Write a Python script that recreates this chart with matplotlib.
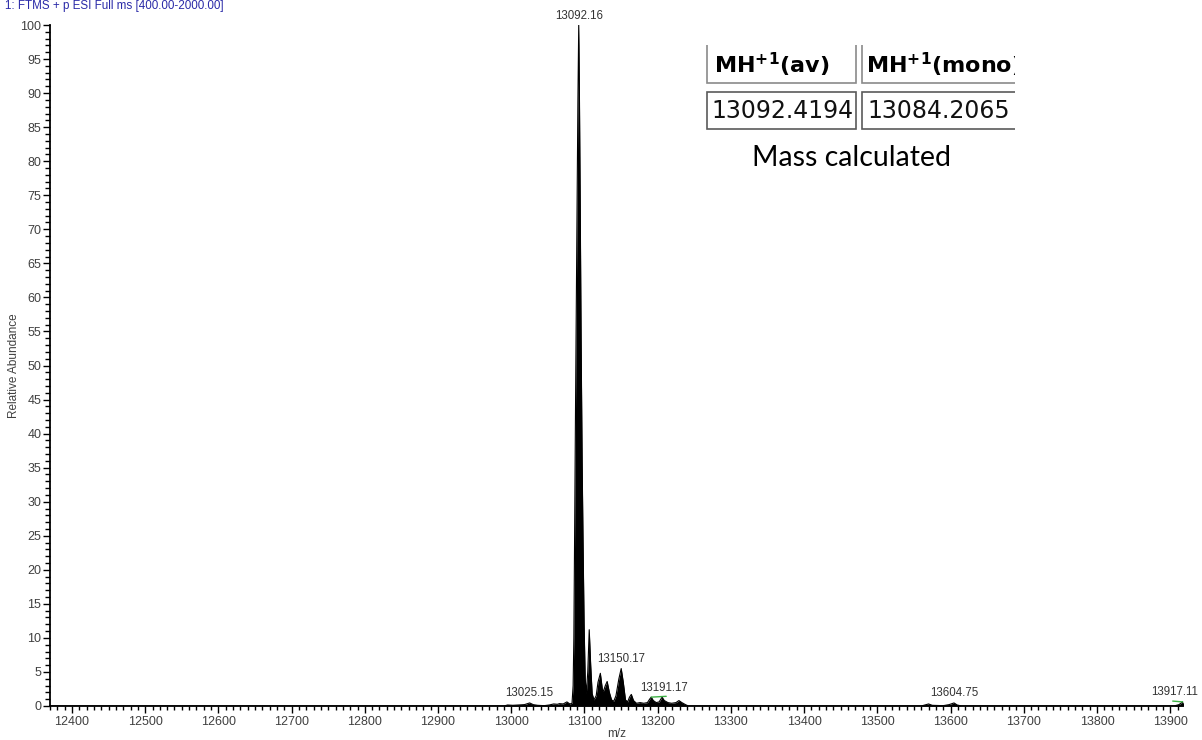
import matplotlib
matplotlib.use("Agg")
import matplotlib.pyplot as plt
from matplotlib.patches import Rectangle
from matplotlib.ticker import MultipleLocator

plt.rcParams['font.family'] = ['Liberation Sans', 'DejaVu Sans']
plt.rcParams['mathtext.fontset'] = 'dejavusans'

# deconvoluted profile spectrum (m/z, relative abundance)
mz = [12370, 12990, 12995, 13002, 13010, 13018, 13025.15, 13030, 13036, 13045,
      13052, 13058, 13063, 13066, 13071, 13076, 13080, 13083, 13084.5, 13085.5,
      13086.5, 13087.8, 13089.5, 13091, 13092.16, 13093.2, 13094.2, 13095.4, 13096.8, 13098,
      13099.5, 13101, 13102.5, 13104.5, 13106.5, 13108.5, 13110.5, 13113, 13116, 13118.5,
      13121.7, 13124.5, 13126, 13128.5, 13131, 13134, 13137, 13140, 13143, 13147,
      13150.17, 13153, 13156, 13159, 13161.5, 13164, 13167, 13171, 13176, 13181,
      13186, 13189, 13191.17, 13194, 13198, 13202, 13206, 13209, 13214, 13219,
      13225, 13229, 13233, 13238, 13242, 13560, 13565, 13570, 13575, 13590,
      13598, 13604.75, 13609, 13615, 13905, 13912, 13917.11, 13920]
abundance = [0, 0, 0.15, 0.1, 0.15, 0.2, 0.45, 0.2, 0.1, 0.05,
             0.15, 0.3, 0.25, 0.35, 0.3, 0.6, 0.3, 0.4, 3, 10,
             24.6, 44.2, 68, 88.5, 100, 88.5, 73.7, 54, 36.1, 24.6,
             12, 4, 1.8, 5, 11.2, 6, 1.8, 0.9, 1.5, 3.5,
             4.8, 2.4, 2.2, 3, 3.6, 2, 0.9, 0.7, 1.5, 4,
             5.5, 3.5, 0.9, 0.6, 1.3, 1.7, 0.8, 0.4, 0.5, 0.4,
             0.5, 1.0, 1.3, 0.8, 0.5, 0.6, 1.3, 0.8, 0.5, 0.4,
             0.5, 0.8, 0.5, 0.2, 0, 0, 0.15, 0.3, 0.1, 0.05,
             0.2, 0.45, 0.15, 0, 0, 0.2, 0.6, 0]

# labelled peaks and label offsets in points
label_mz = [13092.16, 13150.17, 13191.17, 13025.15, 13604.75, 13917.11]
label_dx = [0, 0, 9, 0, 0, -6]

table_head = [r'$\mathbf{MH^{+1}(av)}$', r'$\mathbf{MH^{+1}(mono)}$']
table_vals = ['13092.4194', '13084.2065']

W, H = 1202, 740
fig = plt.figure(figsize=(W / 100, H / 100), dpi=100)
ax = fig.add_axes([50 / W, 1 - 706 / H, 1133 / W, 681 / H])

ax.fill_between(mz, abundance, 0, color='black', lw=0)
ax.plot(mz, abundance, color='black', lw=0.8)

ax.set_xlim(12370, 13917.5)
ax.set_ylim(0, 100)
for s in ['top', 'right']:
    ax.spines[s].set_visible(False)
for s in ['left', 'bottom']:
    ax.spines[s].set_linewidth(1.3)

ax.xaxis.set_minor_locator(MultipleLocator(10))
ax.yaxis.set_major_locator(MultipleLocator(5))
ax.yaxis.set_minor_locator(MultipleLocator(1))
ax.set_xticks(list(range(12400, 14000, 100)))
ax.tick_params(axis='y', which='major', length=5, width=1, pad=1.2, labelsize=9, labelcolor='#404040')
ax.tick_params(axis='y', which='minor', length=3.6, width=1)
ax.tick_params(axis='x', which='major', length=5, width=1, pad=2, labelsize=9, labelcolor='#404040')
ax.tick_params(axis='x', which='minor', length=3, width=1)

ax.set_xlabel('m/z', fontsize=8.5, color='#404040', labelpad=0.5)
ax.set_ylabel('Relative Abundance', fontsize=8.5, color='#404040', labelpad=0)

# peak annotations with leader lines
for m, dx in zip(label_mz, label_dx):
    h = abundance[mz.index(m)]
    ax.annotate(f'{m:.2f}', xy=(m, h), xytext=(dx, 2.5), textcoords='offset points',
                ha='center', va='bottom', fontsize=8.3, color='#333333', annotation_clip=False)
    if dx:
        ax.annotate('', xy=(m, h), xytext=(dx * 1.2, 0.6), textcoords='offset points',
                    arrowprops=dict(arrowstyle='-', color='#3cb043', lw=1, shrinkA=0, shrinkB=0),
                    annotation_clip=False)

fig.text(5 / W, 1 - 8.5 / H, '1: FTMS + p ESI Full ms [400.00-2000.00]',
         fontsize=8.4, color='#2a2aa8', ha='left', va='baseline')


def fx(x):
    return x / W


def fy(y):
    return 1 - y / H


# pasted calculated-mass table, cropped at its top and right edge
clip = Rectangle((fx(704), fy(135)), (1015 - 704) / W, 90 / H, transform=fig.transFigure,
                 fill=False, visible=False)
fig.add_artist(clip)
cells = [((707, 38, 856, 83), '#8a8a8a'), ((862, 38, 1030, 83), '#8a8a8a'),
         ((707, 92, 856, 129), '#5a5a5a'), ((862, 92, 1030, 129), '#5a5a5a')]
for (x0, y0, x1, y1), ec in cells:
    r = Rectangle((fx(x0), fy(y1)), (x1 - x0) / W, (y1 - y0) / H, transform=fig.transFigure,
                  fill=False, ec=ec, lw=1.2)
    fig.add_artist(r)
    r.set_clip_path(clip)

for txt, x in zip(table_head, [714, 866]):
    t = fig.text(fx(x), fy(65), txt, fontsize=16, color='black', ha='left', va='center')
    t.set_clip_path(clip)
for txt, x in zip(table_vals, [711, 867]):
    t = fig.text(fx(x), fy(111), txt, family='DejaVu Sans', fontsize=17, color='#111111',
                 ha='left', va='center')
    t.set_clip_path(clip)

fig.text(fx(752), fy(166), 'Mass calculated', family='Lato', fontsize=20.5, color='black',
         ha='left', va='baseline')

fig.savefig('out.png', dpi=100)
